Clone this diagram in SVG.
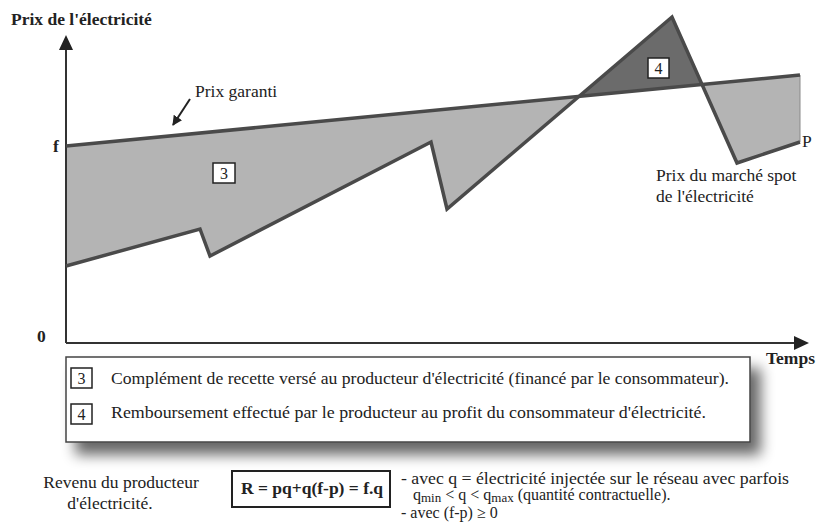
<svg xmlns="http://www.w3.org/2000/svg" width="817" height="532" viewBox="0 0 817 532" font-family="'Liberation Serif', 'Times New Roman', 'DejaVu Serif', 'Noto Serif', serif">
<style>
text{font-family:'Liberation Serif','Times New Roman','DejaVu Serif','Noto Serif',serif;fill:#222;font-size:17.5px}
.b{font-weight:bold}
.n{font-size:16px}
.s{font-size:16px}
.curve{fill:none;stroke:#4a4a4a;stroke-width:3.5;stroke-linejoin:miter}
.axis{stroke:#333;stroke-width:2;fill:none}
.lt{fill:#b4b4b4}
.dk{fill:#6b6b6b}
.tag{fill:#fff;stroke:#222;stroke-width:1.5}
</style>
<defs>
<filter id="sh" x="-10%" y="-30%" width="130%" height="190%">
<feGaussianBlur in="SourceAlpha" stdDeviation="7"/>
<feOffset dx="10" dy="12" result="o"/>
<feComponentTransfer><feFuncA type="linear" slope="0.6"/></feComponentTransfer>
<feMerge><feMergeNode/><feMergeNode in="SourceGraphic"/></feMerge>
</filter>
<marker id="ah" viewBox="0 0 10 10" refX="9" refY="5" markerWidth="5" markerHeight="5" orient="auto-start-reverse"><path d="M0,0 L10,5 L0,10 Z" fill="#222"/></marker>
</defs>

<g id="areas">
<polygon class="lt" points="66,146 579,96.4 447,209 431,142 210,256 200,229 66,266"/>
<polygon class="dk" points="579,96.4 672,17 702,84.5"/>
<polygon class="lt" points="702,84.5 800,75 800,142 737,163"/>
<line x1="800" y1="75" x2="800" y2="142" stroke="#8a8a8a" stroke-width="1"/>
</g>

<g id="axes">
<line class="axis" x1="66" y1="343" x2="66" y2="48"/>
<polygon points="66,35 59,50 73,50" fill="#222"/>
<line class="axis" x1="66" y1="343" x2="796" y2="343"/>
<polygon points="809,343 794,336 794,350" fill="#222"/>
<text class="b" x="11" y="25">Prix de l'électricité</text>
<text class="b" x="766" y="364">Temps</text>
<text class="b" x="53" y="152">f</text>
<text class="b" x="37" y="342">0</text>
</g>

<g id="prix-garanti">
<line class="curve" x1="66" y1="146" x2="800" y2="75"/>
<text x="195" y="97">Prix garanti</text>
<line x1="190" y1="99" x2="173" y2="125" stroke="#222" stroke-width="2" marker-end="url(#ah)"/>
</g>

<g id="prix-spot">
<polyline class="curve" points="66,266 200,229 210,256 431,142 447,209 672,17 737,163 800,142"/>
<text x="802" y="147">P</text>
<text x="656" y="181">Prix du marché spot</text>
<text x="656" y="202">de l'électricité</text>
</g>

<g id="tag3">
<rect class="tag" x="213" y="163" width="22" height="20"/>
<text class="n" x="224" y="179" text-anchor="middle">3</text>
</g>
<g id="tag4">
<rect class="tag" x="648" y="58" width="21" height="20"/>
<text class="n" x="658.5" y="74" text-anchor="middle">4</text>
</g>

<g id="legend">
<rect x="66" y="357" width="684" height="85" fill="#fff" stroke="#444" stroke-width="1.5" filter="url(#sh)"/>
<rect class="tag" x="71" y="368" width="21" height="20"/>
<text class="n" x="81.5" y="384" text-anchor="middle">3</text>
<text x="111" y="384" textLength="618" lengthAdjust="spacingAndGlyphs">Complément de recette versé au producteur d'électricité (financé par le consommateur).</text>
<rect class="tag" x="71" y="404" width="21" height="20"/>
<text class="n" x="81.5" y="420" text-anchor="middle">4</text>
<text x="111" y="418" textLength="595" lengthAdjust="spacingAndGlyphs">Remboursement effectué par le producteur au profit du consommateur d'électricité.</text>
</g>

<g id="formula">
<text x="121" y="488" text-anchor="middle">Revenu du producteur</text>
<text x="110" y="509" text-anchor="middle">d'électricité.</text>
<rect x="232" y="471" width="158" height="36" fill="#fff" stroke="#222" stroke-width="2"/>
<text class="b" x="312" y="494" text-anchor="middle">R = pq+q(f-p) = f.q</text>
<text class="s" x="401" y="484" textLength="388" lengthAdjust="spacingAndGlyphs">- avec q = électricité injectée sur le réseau avec parfois</text>
<text class="s" x="413" y="500">q<tspan dy="1.5" font-size="13">min</tspan><tspan dy="-1.5"> &lt; q &lt; q</tspan><tspan dy="1.5" font-size="13">max</tspan><tspan dy="-1.5"> (quantité contractuelle).</tspan></text>
<text class="s" x="401" y="518">- avec (f-p) ≥ 0</text>
</g>
</svg>
